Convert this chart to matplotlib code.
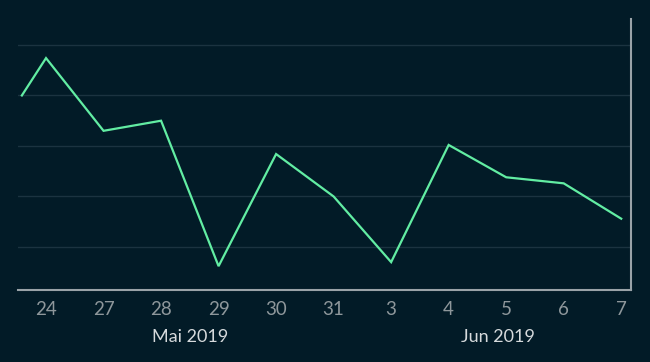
import matplotlib
matplotlib.use("Agg")
import matplotlib.pyplot as plt
import matplotlib.transforms as mtransforms

# data
x_pos = [-0.42, 0, 1, 2, 3, 4, 5, 6, 7, 8, 9, 10]
values = [20.0, 23.7, 16.5, 17.5, 3.1, 14.2, 10.0, 3.5, 15.1, 11.9, 11.3, 7.8]
tick_pos = [0, 1, 2, 3, 4, 5, 6, 7, 8, 9, 10]
tick_labels = ["24", "27", "28", "29", "30", "31", "3", "4", "5", "6", "7"]
month_labels = ["Mai 2019", "Jun 2019"]
month_pos = [2.5, 7.86]
grid_vals = [5, 10, 15, 20, 25]

BG = "#021b27"
LINE = "#62eda3"
GRID = "#1b3340"
AXIS = "#9aa3a8"
TICK = "#8e979b"
MONTH = "#d6dadc"

plt.rcParams['font.family'] = ['Lato', 'DejaVu Sans']

fig = plt.figure(figsize=(6.5, 3.62), dpi=100, facecolor=BG)
ax = fig.add_axes([18/650, 1-290/362, (631-18)/650, (290-19)/362])
ax.set_facecolor(BG)

ax.plot(x_pos, values, color=LINE, lw=1.6, solid_joinstyle='miter', zorder=3)

ax.set_xlim(-0.487, 10.17)
ax.set_ylim(0.74, 27.57)
ax.set_yticks(grid_vals)
ax.set_yticklabels([])
ax.tick_params(axis='y', length=0)
ax.grid(axis='y', color=GRID, lw=1)
ax.set_axisbelow(True)

ax.set_xticks(tick_pos)
ax.set_xticklabels(tick_labels, fontsize=13.5, color=TICK, fontweight='normal')
ax.tick_params(axis='x', length=0, pad=8)

for s in ['top', 'left']:
    ax.spines[s].set_visible(False)
for s in ['bottom', 'right']:
    ax.spines[s].set_color(AXIS)
    ax.spines[s].set_linewidth(1.5)

trans = mtransforms.blended_transform_factory(ax.transData, fig.transFigure)
for lab, p in zip(month_labels, month_pos):
    ax.text(p, 1-337/362, lab, transform=trans, ha='center', va='center',
            fontsize=13, color=MONTH)

fig.savefig("out.png", dpi=100, facecolor=BG)
